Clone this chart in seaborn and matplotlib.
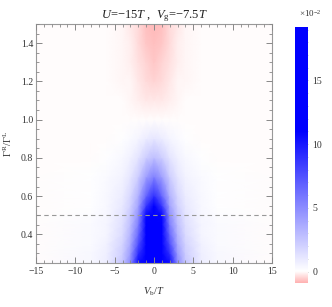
import numpy as np
import matplotlib
matplotlib.use("Agg")
import matplotlib.pyplot as plt
import seaborn as sns
from matplotlib.colors import LinearSegmentedColormap, Normalize
from matplotlib.ticker import MultipleLocator

# grid (values in units of 1e-2)
vb = [-15, -8, -6, -4, -3, -2, -1, 0, 1, 2, 3, 4, 6, 8, 15]
ratio = [0.25, 0.3, 0.35, 0.4, 0.45, 0.5, 0.55, 0.6, 0.7, 0.8, 0.9,
         1.0, 1.1, 1.2, 1.3, 1.4, 1.5]
current = [
    [0, 0.3, 0.8, 2.5, 5.0, 10.5, 24.0, 30.0, 24.0, 10.5, 5.0, 2.5, 0.8, 0.3, 0],
    [0, 0.3, 0.7, 2.2, 4.3, 9.0, 21.0, 27.0, 21.0, 9.0, 4.3, 2.2, 0.7, 0.3, 0],
    [0, 0.25, 0.6, 1.9, 3.7, 7.6, 18.0, 24.0, 18.0, 7.6, 3.7, 1.9, 0.6, 0.25, 0],
    [0, 0.2, 0.5, 1.6, 3.2, 6.5, 15.5, 21.0, 15.5, 6.5, 3.2, 1.6, 0.5, 0.2, 0],
    [0, 0.2, 0.45, 1.4, 2.8, 5.6, 13.0, 18.0, 13.0, 5.6, 2.8, 1.4, 0.45, 0.2, 0],
    [0, 0.15, 0.4, 1.2, 2.4, 4.8, 10.8, 15.0, 10.8, 4.8, 2.4, 1.2, 0.4, 0.15, 0],
    [0, 0.12, 0.35, 1.0, 2.0, 4.0, 8.6, 12.0, 8.6, 4.0, 2.0, 1.0, 0.35, 0.12, 0],
    [0, 0.1, 0.3, 0.85, 1.7, 3.4, 6.7, 9.0, 6.7, 3.4, 1.7, 0.85, 0.3, 0.1, 0],
    [0, 0.07, 0.2, 0.55, 1.1, 2.2, 4.2, 5.5, 4.2, 2.2, 1.1, 0.55, 0.2, 0.07, 0],
    [0, 0.04, 0.1, 0.3, 0.6, 1.2, 2.2, 2.8, 2.2, 1.2, 0.6, 0.3, 0.1, 0.04, 0],
    [0, 0.02, 0.04, 0.12, 0.25, 0.5, 0.9, 1.1, 0.9, 0.5, 0.25, 0.12, 0.04, 0.02, 0],
    [0, 0, 0, 0, 0, 0, 0, 0, 0, 0, 0, 0, 0, 0, 0],
    [0, 0, -0.01, -0.03, -0.06, -0.12, -0.2, -0.25, -0.2, -0.12, -0.06, -0.03, -0.01, 0, 0],
    [0, 0, -0.02, -0.05, -0.11, -0.22, -0.37, -0.45, -0.37, -0.22, -0.11, -0.05, -0.02, 0, 0],
    [0, 0, -0.02, -0.07, -0.15, -0.3, -0.5, -0.6, -0.5, -0.3, -0.15, -0.07, -0.02, 0, 0],
    [0, 0, -0.03, -0.08, -0.18, -0.36, -0.6, -0.72, -0.6, -0.36, -0.18, -0.08, -0.03, 0, 0],
    [0, 0, -0.03, -0.09, -0.2, -0.4, -0.68, -0.82, -0.68, -0.4, -0.2, -0.09, -0.03, 0, 0],
]
cbar_ticks = [0, 5, 10, 15]

sns.set_theme(style="ticks")
plt.rcParams['font.family'] = ['Liberation Serif', 'DejaVu Serif']
plt.rcParams['mathtext.fontset'] = 'custom'
plt.rcParams['mathtext.rm'] = 'Liberation Serif'
plt.rcParams['mathtext.it'] = 'Liberation Serif:italic'

vmin, vmax = -0.9, 19.2
z0 = (0 - vmin) / (vmax - vmin)
zb = (11 - vmin) / (vmax - vmin)
cmap = LinearSegmentedColormap.from_list(
    "rb", [(0, (1, 0.70, 0.70)), (z0, (1, 1, 1)), (zb, (0, 0, 1)), (1, (0, 0, 1))])
norm = Normalize(vmin, vmax)

fig = plt.figure(figsize=(3.32, 3.07), dpi=100)
ax = fig.add_axes([0.1084, 0.1433, 0.711, 0.7785])
X, Y = np.meshgrid(vb, ratio)
mesh = ax.pcolormesh(X, Y, np.array(current), cmap=cmap, norm=norm,
                     shading='gouraud', rasterized=True, zorder=0)
ax.axhline(0.5, color='#999999', ls=(0, (4, 3)), lw=0.8)
ax.set_xlim(-15, 15)
ax.set_ylim(0.25, 1.5)
ax.xaxis.set_major_locator(MultipleLocator(5))
ax.xaxis.set_minor_locator(MultipleLocator(1))
ax.yaxis.set_major_locator(MultipleLocator(0.2))
ax.yaxis.set_minor_locator(MultipleLocator(0.05))
ax.yaxis.set_major_formatter(plt.FuncFormatter(lambda v, p: f"{v:.1f}"))
ax.xaxis.set_major_formatter(plt.FuncFormatter(lambda v, p: f"{v:.0f}".replace('-', '\u2212')))
ax.tick_params(which='both', direction='in', top=True, right=True, bottom=True, left=True,
               color='#888888', labelsize=7, labelcolor='#333333', pad=2)
ax.tick_params(axis='x', which='both', pad=3)
ax.tick_params(which='major', length=4.5, width=0.7)
ax.tick_params(which='minor', length=2.5, width=0.6)
ax.set_axisbelow(False)
for s in ax.spines.values():
    s.set_color('#999999')
    s.set_linewidth(0.8)
ax.set_xlabel(r'$V_{\rm b}/T$', fontsize=7.5, color='#333333')
ax.set_ylabel(r'$\Gamma^{\rm R}/\Gamma^{\rm L}$', fontsize=7.5, color='#333333')
ax.xaxis.set_label_coords(0.5, -0.095)
ax.yaxis.set_label_coords(-0.093, 0.5)
ax.set_title(r'$U$=$-$15$T$ ,  $V_{\rm g}$=$-$7.5$T$', fontsize=9, pad=2, color='#222222')

cax = fig.add_axes([0.8886, 0.0782, 0.039, 0.834])
cb = fig.colorbar(mesh, cax=cax)
cb.outline.set_visible(False)
cb.set_ticks(cbar_ticks)
cax.yaxis.set_minor_locator(MultipleLocator(1))
cax.tick_params(which='both', direction='in', color='#aaaaaa', labelsize=7,
                labelcolor='#333333', pad=3)
cax.tick_params(which='major', length=3, width=0.5)
cax.tick_params(which='minor', length=1.5, width=0.4)
fig.text(0.935, 0.975, r'$\times$10$^{-2}$', fontsize=6.5, ha='center', va='top', color='#333333')

fig.savefig("out.png", dpi=100)
